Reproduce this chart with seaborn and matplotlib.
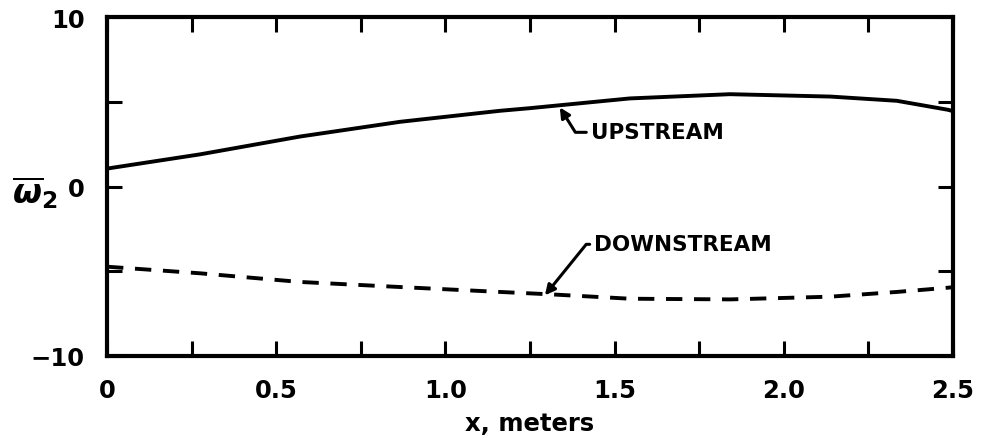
import numpy as np
import pandas as pd
import matplotlib
matplotlib.use("Agg")
import matplotlib.pyplot as plt
import seaborn as sns

# data
x_up = [0.0, 0.275, 0.57, 0.866, 1.161, 1.247, 1.545, 1.841, 2.137, 2.334, 2.485, 2.5]
w_up = [1.06, 1.9, 2.95, 3.82, 4.47, 4.62, 5.2, 5.45, 5.31, 5.06, 4.53, 4.45]
x_down = [0.0, 0.275, 0.57, 0.866, 1.161, 1.309, 1.545, 1.841, 2.137, 2.334, 2.485, 2.5]
w_down = [-4.73, -5.12, -5.63, -5.93, -6.22, -6.36, -6.62, -6.66, -6.5, -6.22, -5.97, -5.94]
x_ticks = [0, 0.5, 1.0, 1.5, 2.0, 2.5]
x_ticklabels = ["0", "0.5", "1.0", "1.5", "2.0", "2.5"]
y_ticks = [-10, 0, 10]
y_ticklabels = ["\u221210", "0", "10"]

sns.set_style("white")
plt.rcParams['font.family'] = ['DejaVu Sans']
plt.rcParams['font.weight'] = 'bold'
plt.rcParams['mathtext.fontset'] = 'dejavusans'
for k in ['text.color', 'axes.labelcolor', 'xtick.color', 'ytick.color']:
    plt.rcParams[k] = 'black'

df = pd.concat([
    pd.DataFrame({"x": x_up, "w": w_up, "series": "UPSTREAM"}),
    pd.DataFrame({"x": x_down, "w": w_down, "series": "DOWNSTREAM"}),
])

fig = plt.figure(figsize=(9.83, 4.39), dpi=100)
ax = fig.add_axes([0.1089, 0.1868, 0.8606, 0.772])

sns.lineplot(data=df[df.series == "UPSTREAM"], x="x", y="w", ax=ax,
             color="black", lw=2.8, legend=False)
sns.lineplot(data=df[df.series == "DOWNSTREAM"], x="x", y="w", ax=ax,
             color="black", lw=2.8, legend=False)
ax.lines[1].set_dashes((4.2, 3))

ax.set_xlim(0, 2.5)
ax.set_ylim(-10, 10)
ax.set_xticks(x_ticks)
ax.set_xticklabels(x_ticklabels)
ax.set_xticks(np.arange(0.25, 2.5, 0.5), minor=True)
ax.set_yticks(y_ticks)
ax.set_yticklabels(y_ticklabels)
ax.set_yticks([-5, 5], minor=True)

for s in ax.spines.values():
    s.set_linewidth(3.0)
    s.set_color("black")

ax.tick_params(which="both", direction="in", top=True, right=True,
               bottom=True, left=True, length=11, width=2.2, color="black")
ax.tick_params(which="major", labelsize=17.5, pad=16)
for lab in ax.get_xticklabels() + ax.get_yticklabels():
    lab.set_fontweight("bold")

ax.set_xlabel("x, meters", fontsize=17.5, fontweight="bold", labelpad=6)
ax.set_ylabel(r"$\overline{\omega}_2$", fontsize=24, rotation=0)
ax.yaxis.set_label_coords(-0.085, 0.43)

ax.annotate("UPSTREAM", xy=(1.338, 4.67), xytext=(1.43, 3.2),
            fontsize=15.5, fontweight="bold", va="center", ha="left",
            arrowprops=dict(arrowstyle="-|>", color="black", lw=2.2,
                            mutation_scale=15,
                            connectionstyle="angle,angleA=0,angleB=-58,rad=0",
                            shrinkA=1, shrinkB=0))
ax.annotate("DOWNSTREAM", xy=(1.294, -6.42), xytext=(1.44, -3.41),
            fontsize=15.5, fontweight="bold", va="center", ha="left",
            arrowprops=dict(arrowstyle="-|>", color="black", lw=2.2,
                            mutation_scale=15,
                            connectionstyle="angle,angleA=0,angleB=51,rad=0",
                            shrinkA=1, shrinkB=0))

fig.savefig("out.png", dpi=100)
